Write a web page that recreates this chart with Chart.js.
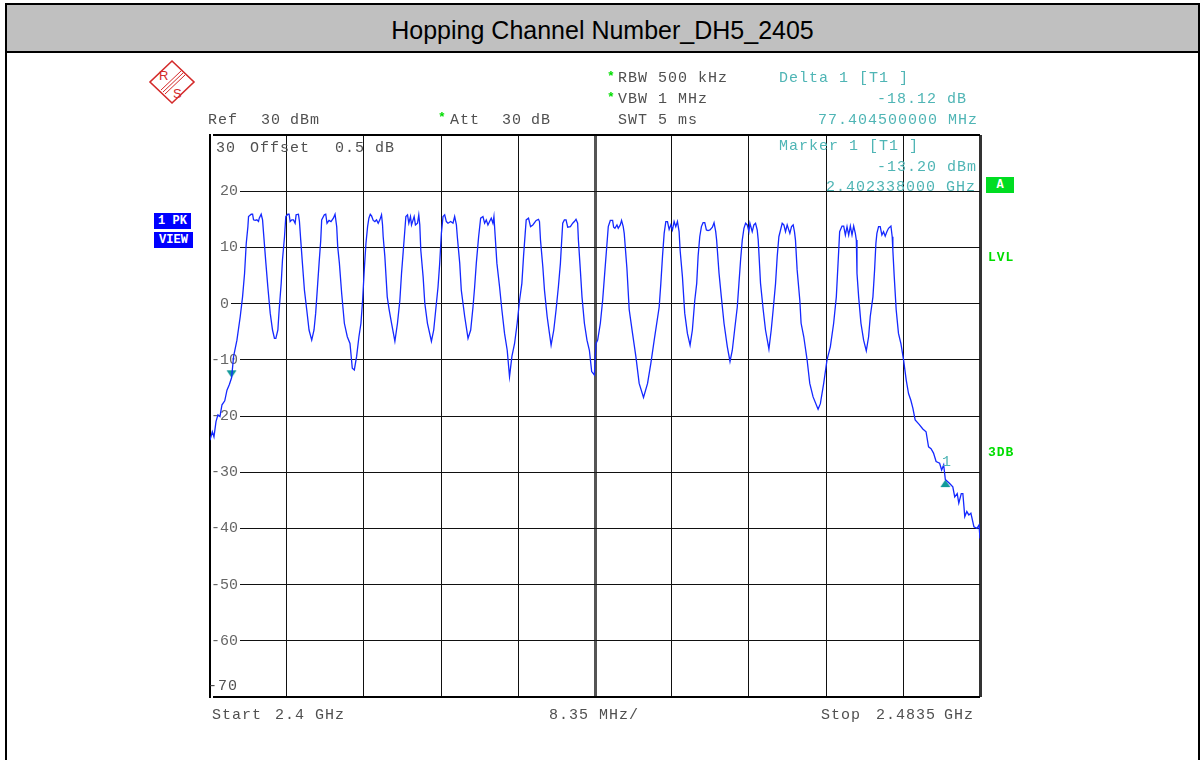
<!DOCTYPE html>
<html><head><meta charset="utf-8">
<script src="https://cdn.jsdelivr.net/npm/chart.js@4.4.1/dist/chart.umd.min.js"></script>
<style>
html,body{margin:0;padding:0;background:#fff;}
#page{position:relative;width:1201px;height:760px;overflow:hidden;background:#fff;}
#frame{position:absolute;left:5px;top:3px;width:1195px;height:800px;border-left:2px solid #000;border-right:2px solid #000;border-top:2px solid #000;box-sizing:border-box;}
#titlebar{position:absolute;left:7px;top:5px;width:1191px;height:46px;background:#c0c0c0;border-bottom:2px solid #000;}
#title{position:absolute;left:0;top:0;width:100%;height:46px;line-height:50px;text-align:center;font-family:"Liberation Sans",Arial,sans-serif;font-size:25px;color:#000;}
#chartbox{position:absolute;left:0;top:0;width:1201px;height:760px;}
.t{position:absolute;font-family:"Liberation Mono","Courier New",monospace;font-size:15px;letter-spacing:1px;white-space:pre;line-height:18px;height:18px;}
.box{position:absolute;font-family:"Liberation Mono","Courier New",monospace;font-weight:bold;color:#fff;white-space:pre;text-align:center;font-size:12px;}
</style>
</head><body>
<div id="page">
  <div id="frame"></div>
  <div id="titlebar"><div id="title">Hopping Channel Number_DH5_2405</div></div>
  <svg id="logo" style="position:absolute;left:148px;top:59px" width="48" height="46" viewBox="0 0 48 46">
    <polygon points="24,2 46,23 24,44 2,23" fill="none" stroke="#d42a2a" stroke-width="1.6"/>
    <line x1="13" y1="31" x2="33" y2="12" stroke="#d42a2a" stroke-width="1"/>
    <line x1="15" y1="33" x2="35" y2="14" stroke="#d42a2a" stroke-width="1"/>
    <line x1="17" y1="35" x2="37" y2="16" stroke="#d42a2a" stroke-width="1"/>
    <text x="11" y="21" font-family="Liberation Sans,Arial" font-size="13" fill="#d42a2a">R</text>
    <text x="25" y="39" font-family="Liberation Sans,Arial" font-size="13" fill="#d42a2a">S</text>
  </svg>
  <div id="chartbox"><canvas id="c" width="1201" height="760"></canvas></div>
  <div id="texts"></div>
</div>
<script>
// ---- data ----
const freqMHz = [
2400.00,2400.25,2400.43,2400.65,2400.86,2401.08,2401.30,2401.60,2401.84,2402.10,2402.34,2402.56,2402.92,2403.28,2403.53,2403.75,2403.93,2404.11,
2404.18,2404.47,2404.62,2404.72,2404.90,2405.08,2405.26,2405.34,2405.55,2405.70,
2405.81,2406.06,2406.27,2406.53,2406.78,2406.99,2407.14,2407.36,2407.50,2407.72,2407.86,2408.08,
2408.22,2408.44,2408.58,2408.69,2408.87,2409.05,2409.23,2409.34,2409.59,2409.70,
2409.84,2410.02,2410.24,2410.49,2410.74,2411.03,2411.28,2411.46,2411.68,2411.83,2412.01,
2412.11,2412.40,2412.55,2412.69,2412.91,2413.12,2413.38,2413.56,2413.74,
2413.85,2414.03,2414.28,2414.57,2414.89,2415.18,2415.43,2415.65,2415.90,2416.15,2416.37,2416.55,2416.73,2416.91,2417.09,
2417.23,2417.38,2417.52,2417.70,2417.88,2418.06,2418.24,2418.42,2418.60,2418.71,
2418.78,2418.96,2419.22,2419.43,2419.69,2420.05,2420.33,2420.59,2420.77,2420.95,2421.13,
2421.24,2421.42,2421.56,2421.74,2421.85,2422.14,2422.28,2422.50,2422.64,2422.75,
2422.86,2423.11,2423.29,2423.58,2424.01,2424.26,2424.48,2424.73,2424.91,2425.09,
2425.27,2425.45,2425.63,2425.81,2426.10,2426.35,2426.53,2426.72,
2426.82,2427.08,2427.25,2427.62,2427.98,2428.27,2428.52,2428.70,2428.88,2429.13,
2429.35,2429.60,2429.78,2429.96,2430.14,2430.32,2430.50,2430.68,2430.79,2430.86,
2430.93,2431.11,2431.40,2431.65,2431.94,2432.23,2432.48,2432.74,2433.03,2433.31,2433.57,2433.82,2434.00,2434.18,
2434.29,2434.54,2434.76,2435.01,2435.37,2435.62,2435.73,
2435.84,2436.09,2436.27,2436.56,2436.81,2436.99,2437.28,2437.53,2437.78,2438.00,2438.14,
2438.25,2438.43,2438.61,2438.79,2439.08,2439.33,2439.51,2439.69,2439.87,
2439.95,2440.16,2440.34,2440.60,2440.88,2441.14,2441.39,2441.68,2441.86,2442.04,2442.33,2442.58,2442.83,2443.05,
2443.19,2443.41,2443.66,2443.77,2443.91,2444.13,2444.27,2444.49,2444.63,2444.81,
2444.92,2445.21,2445.46,2445.82,2446.18,2446.54,2447.01,2447.45,2447.81,2448.17,2448.71,2448.89,2449.07,2449.25,
2449.43,2449.61,2449.79,2449.97,2450.15,2450.33,2450.51,2450.69,2450.87,
2450.98,2451.23,2451.48,2451.77,2452.06,2452.31,2452.57,2452.78,2452.93,2453.11,
2453.29,2453.47,2453.65,2453.83,2454.01,2454.22,2454.48,2454.66,2454.84,
2454.94,2455.20,2455.45,2455.74,2456.10,2456.39,2456.64,2456.89,2457.18,2457.36,2457.54,2457.72,
2457.90,2458.08,2458.26,2458.44,2458.55,2458.80,2458.98,2459.16,2459.34,
2459.45,2459.70,2459.99,2460.24,2460.61,2460.86,2461.07,2461.33,2461.51,2461.69,
2461.87,2462.05,2462.23,2462.41,2462.59,2462.88,2463.06,2463.24,2463.38,
2463.49,2463.67,2463.96,2464.10,2464.39,2464.75,2465.04,2465.40,2465.94,2466.19,2466.55,2466.91,2467.27,2467.63,2467.92,2468.18,
2468.28,2468.54,2468.72,2468.90,2469.08,2469.26,2469.44,2469.62,2469.80,2469.98,
2470.09,2470.16,2470.34,2470.59,2470.88,2471.17,2471.42,2471.60,2471.89,2472.07,2472.21,
2472.32,2472.50,2472.68,2472.86,2473.04,2473.22,2473.40,2473.58,2473.84,2473.98,
2474.05,2474.20,2474.41,2474.66,2474.92,2475.21,2475.50,2475.75,2476.00,2476.22,2476.47,2476.90,2477.30,2477.65,
2477.92,2478.19,2478.46,2478.74,2479.12,2479.34,2479.56,2479.74,2480.21,2480.55,2480.76,2481.03,2481.20,2481.47,
2481.64,2481.85,2482.07,2482.29,2482.51,2482.84,2483.17,2483.39,2483.50
];
const levelDbm = [
-24.3,-22.8,-23.7,-21.0,-19.8,-20.1,-18.0,-17.3,-15.4,-14.4,-13.2,-9.4,-6.5,-2.3,1.2,5.4,10.7,13.7,
15.5,15.9,15.9,14.9,14.8,14.9,14.6,15.2,15.9,14.9,
12.5,7.2,3.0,-1.7,-4.7,-6.2,-6.2,-4.7,-1.1,3.6,7.8,11.9,
15.5,15.9,15.9,14.6,14.9,14.9,14.3,15.8,15.9,14.6,
11.3,7.2,2.4,-1.1,-4.7,-6.5,-4.7,-1.7,3.6,7.2,11.3,
14.9,15.8,15.9,14.3,14.8,14.6,15.2,15.9,13.7,
10.1,7.2,1.8,-3.5,-5.9,-7.1,-11.5,-11.8,-9.4,-5.9,-3.5,0.6,6.0,10.7,13.7,
15.2,15.9,15.6,14.8,14.6,14.9,14.3,14.9,15.8,14.0,
11.9,8.4,1.2,-1.1,-3.5,-6.7,-3.5,0.6,5.4,9.2,13.1,
15.5,15.8,14.3,15.5,14.0,15.5,14.0,14.3,15.8,14.0,
9.5,4.8,0.1,-3.5,-6.7,-4.7,-1.1,3.0,7.2,12.5,
15.5,15.8,14.6,14.3,14.6,14.3,15.5,14.0,
11.9,7.2,2.4,-2.3,-6.2,-4.7,-0.6,3.0,7.2,11.9,
15.2,15.5,14.3,14.9,14.0,14.6,15.2,14.3,15.5,13.7,
11.9,7.2,3.0,-1.1,-5.3,-8.3,-13.0,-9.4,-7.1,-3.5,0.6,3.6,8.4,12.5,
14.9,15.2,13.7,14.0,14.8,15.0,14.6,
11.3,6.6,2.4,-2.3,-5.3,-7.4,-4.7,-1.1,3.0,7.2,11.3,
14.3,14.9,14.9,13.6,13.7,14.3,14.6,15.0,14.3,
11.3,6.0,1.2,-3.5,-6.5,-8.3,-12.1,-12.7,-7.1,-6.5,-3.5,0.6,6.0,10.7,
13.7,14.8,14.8,13.6,13.4,14.0,13.4,14.0,14.8,13.7,
12.5,6.3,-1.1,-5.3,-9.4,-14.2,-16.7,-14.2,-10.6,-6.5,-0.6,3.6,8.4,12.5,
14.6,14.6,13.2,14.0,13.1,14.6,13.7,14.6,12.8,
9.5,4.8,-1.7,-5.3,-7.4,-4.7,0.6,3.6,8.4,11.9,
13.7,14.4,14.4,13.1,13.0,13.1,13.6,14.4,12.8,
11.3,5.4,1.2,-3.5,-7.7,-10.3,-8.3,-4.7,-0.6,3.6,7.8,11.3,
13.4,14.3,14.0,12.8,14.3,12.8,14.0,14.3,13.1,
11.3,3.6,-1.1,-4.7,-8.1,-4.7,-1.1,3.6,8.4,11.9,
13.1,14.3,14.0,12.8,14.0,12.5,13.7,14.0,12.8,
11.3,6.0,0.6,-3.5,-5.9,-10.0,-14.2,-16.6,-18.8,-17.8,-14.2,-10.0,-7.7,-3.5,1.2,9.5,
12.8,13.8,13.8,12.2,13.7,12.2,13.8,12.2,13.8,12.5,
11.3,5.4,1.2,-3.5,-6.5,-8.4,-5.9,-2.3,1.2,6.0,10.7,
12.5,13.7,13.7,12.2,12.8,12.0,12.8,13.4,13.8,11.9,
9.5,4.8,-1.1,-5.3,-7.1,-10.0,-13.6,-16.0,-17.2,-18.6,-20.7,-21.5,-22.3,-22.8,
-25.5,-25.8,-26.6,-28.1,-28.4,-29.6,-28.7,-31.3,-32.0,-32.6,-34.4,-33.8,-35.5,-33.8,
-33.8,-37.9,-37.0,-37.6,-37.3,-39.7,-40.0,-39.4,-41.8
];
// markers: Marker 1 and Delta 1
const markerFreqMHz = [2402.338, 2479.7425];
const markerLevelDbm = [-13.20, -31.32];
const markerPointsDown = [true, false];
// axis ticks
const xGridMHz = [2400, 2408.35, 2416.7, 2425.05, 2433.4, 2441.75, 2450.1, 2458.45, 2466.8, 2475.15, 2483.5];
const yTickValues = [30, 20, 10, 0, -10, -20, -30, -40, -50, -60, -70];
const yTickLabels = ['', ' 20', ' 10', ' 0', '-10', '-20', '-30', '-40', '-50', '-60', ''];

// ---- text annotations (instrument screen readout) ----
const GRAY = '#505050', TEAL = '#4fb5b5', GREEN = '#00dd00';
const texts = [
  ['Ref', 208, 121, GRAY], ['30', 261, 121, GRAY], ['dBm', 290, 121, GRAY],
  ['*', 438, 118, GREEN], ['Att', 450, 121, GRAY], ['30', 502, 121, GRAY], ['dB', 531, 121, GRAY],
  ['*', 607, 77, GREEN], ['RBW 500 kHz', 618, 79, GRAY],
  ['*', 607, 98, GREEN], ['VBW 1 MHz', 618, 100, GRAY],
  ['SWT 5 ms', 618, 121, GRAY],
  ['Delta 1 [T1 ]', 779, 79, TEAL],
  ['-18.12 dB', 877, 100, TEAL],
  ['77.404500000 MHz', 818, 121, TEAL],
  ['Marker 1 [T1 ]', 779, 147, TEAL],
  ['-13.20 dBm', 877, 168, TEAL],
  ['2.402338000 GHz', 826, 188, TEAL],
  ['30', 216, 149, GRAY], ['Offset', 250, 149, GRAY], ['0.5', 335, 149, GRAY], ['dB', 375, 149, GRAY],
  ['-70', 208, 687, GRAY],
  ['1', 942, 463, TEAL],
  ['Start', 212, 716, GRAY], ['2.4', 275, 716, GRAY], ['GHz', 315, 716, GRAY],
  ['8.35 MHz/', 549, 716, GRAY],
  ['Stop', 821, 716, GRAY], ['2.4835', 876, 716, GRAY], ['GHz', 944, 716, GRAY],
  ['LVL', 988, 258, GREEN, 'bold'], ['3DB', 988, 453, GREEN, 'bold']
];
const boxes = [
  ['1 PK', 154, 213, 37, 16, '#0000ff'],
  ['VIEW', 154, 232, 39, 16, '#0000ff'],
  ['A', 986, 177, 28, 16, '#00dd22']
];
const holder = document.getElementById('texts');
texts.forEach(([s, x, y, col, w]) => {
  const d = document.createElement('div');
  d.className = 't';
  d.textContent = s;
  d.style.left = x + 'px';
  d.style.top = (y - 9) + 'px';
  d.style.color = col;
  if (w) { d.style.fontWeight = w; d.style.fontSize = '13px'; }
  if (s === '*') { d.style.fontWeight = 'bold'; d.style.fontSize = '13px'; }
  holder.appendChild(d);
});
boxes.forEach(([s, x, y, w, h, bg]) => {
  const d = document.createElement('div');
  d.className = 'box';
  d.textContent = s;
  d.style.left = x + 'px'; d.style.top = y + 'px';
  d.style.width = w + 'px'; d.style.height = h + 'px';
  d.style.lineHeight = h + 'px';
  d.style.background = bg;
  holder.appendChild(d);
});

// marker glyphs: triangle whose tip sits on the marker point
function markerGlyph(down) {
  const cv = document.createElement('canvas');
  cv.width = 11; cv.height = 17;
  const g = cv.getContext('2d');
  g.fillStyle = '#129a9a';
  g.beginPath();
  if (down) { g.moveTo(0.5, 1); g.lineTo(10.5, 1); g.lineTo(5.5, 8.5); }
  else { g.moveTo(5.5, 8.5); g.lineTo(10.5, 16); g.lineTo(0.5, 16); }
  g.closePath(); g.fill();
  return cv;
}
const markerStyles = markerPointsDown.map(markerGlyph);

// ---- chart ----
const tracePoints = freqMHz.map((f, i) => ({x: f, y: levelDbm[i]}));
const markerPoints = markerFreqMHz.map((f, i) => ({x: f, y: markerLevelDbm[i]}));

new Chart(document.getElementById('c'), {
  type: 'line',
  data: {
    datasets: [
      {
        data: tracePoints,
        borderColor: '#1428ff',
        borderWidth: 1.3,
        pointRadius: 0,
        tension: 0,
        fill: false
      },
      {
        type: 'scatter',
        data: markerPoints,
        pointStyle: markerStyles,
        pointRadius: 5,
        showLine: false
      }
    ]
  },
  options: {
    responsive: false,
    animation: false,
    devicePixelRatio: 1,
    layout: {padding: {left: 208, right: 221, top: 135, bottom: 63}},
    plugins: {legend: {display: false}, tooltip: {enabled: false}},
    scales: {
      x: {
        type: 'linear',
        min: 2400, max: 2483.5,
        afterBuildTicks: (s) => { s.ticks = xGridMHz.map(v => ({value: v})); },
        ticks: {display: false},
        border: {display: false},
        grid: {
          drawTicks: false,
          color: (c) => {
            const i = c.index;
            if (i === 5) return '#555';
            if (i === xGridMHz.length - 1) return '#333';
            return '#111';
          },
          lineWidth: (c) => {
            const i = c.index;
            if (i === 5) return 3;
            if (i === xGridMHz.length - 1) return 3;
            return 1;
          }
        }
      },
      y: {
        type: 'linear',
        min: -70, max: 30,
        afterBuildTicks: (s) => { s.ticks = yTickValues.slice().reverse().map(v => ({value: v})); },
        ticks: {
          mirror: true,
          padding: 1,
          autoSkip: false,
          crossAlign: 'near',
          color: '#666',
          font: {family: 'Liberation Mono', size: 15},
          showLabelBackdrop: true,
          backdropColor: '#ffffff',
          backdropPadding: {top: 0, bottom: 0, left: 0, right: 2},
          callback: (v) => yTickLabels[yTickValues.indexOf(v)]
        },
        border: {display: true, color: '#000', width: 2},
        grid: {
          drawTicks: false,
          color: (c) => (c.tick && (c.tick.value === 30 || c.tick.value === -70)) ? '#000' : '#111',
          lineWidth: (c) => (c.tick && (c.tick.value === 30 || c.tick.value === -70)) ? 2 : 1
        }
      }
    }
  }
});
</script>
</body></html>
